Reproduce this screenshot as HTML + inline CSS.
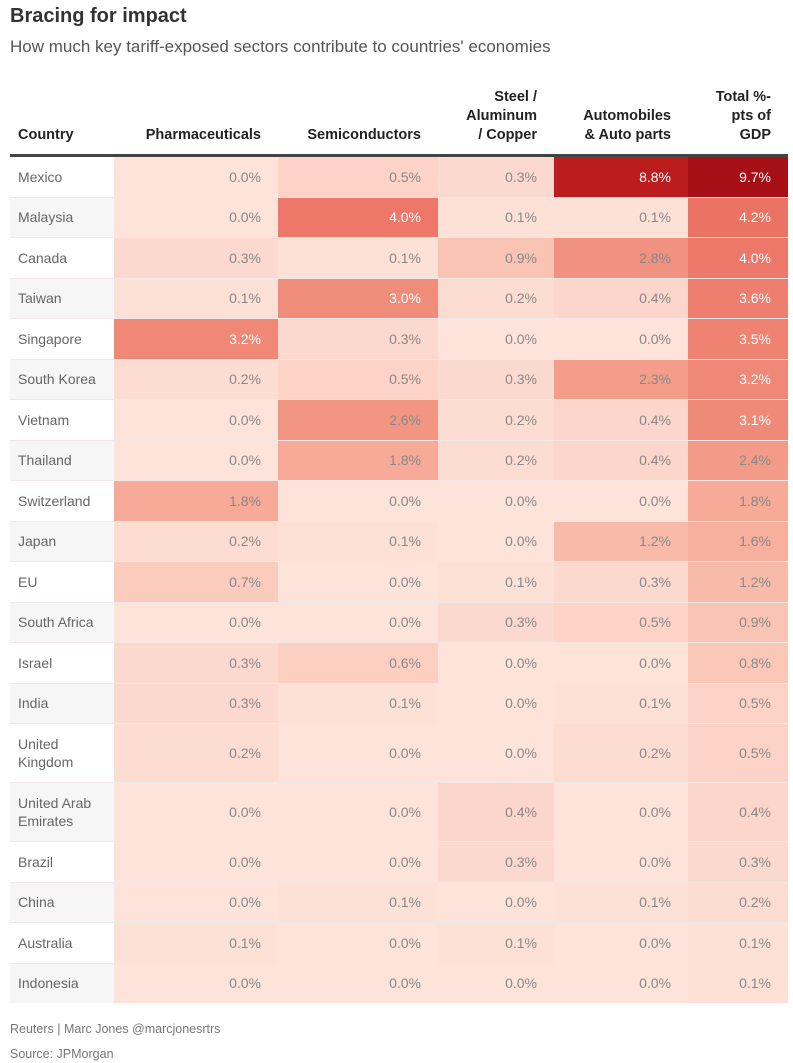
<!DOCTYPE html>
<html><head><meta charset="utf-8"><style>
body{margin:0;background:#fff;font-family:"Liberation Sans","DejaVu Sans",sans-serif;width:793px;height:1063px;overflow:hidden;position:relative}
.t{position:absolute;left:10px;top:5px;font-size:20px;font-weight:bold;color:#333}
.s{position:absolute;left:10px;top:37px;font-size:17px;color:#555}
table{position:absolute;left:10px;top:88px;border-collapse:collapse;width:778px;table-layout:fixed}
th{font-size:14.5px;font-weight:bold;color:#222;text-align:right;vertical-align:bottom;padding:0 17px 9px 0;line-height:19px;border-bottom:3px solid #444}
th.c{text-align:left;padding-left:8px}
td{font-size:14px;color:#888;text-align:right;padding:0 17px 0 0;border-top:1px solid #f0e8e6;height:39.5px;line-height:18px}
td.c{text-align:left;padding-left:8px;color:#666}
tr.tall td{height:58px}
.f{position:absolute;left:10px;font-size:12.5px;color:#777}
</style></head><body>
<div class="t">Bracing for impact</div>
<div class="s">How much key tariff-exposed sectors contribute to countries' economies</div>
<table id="tb">
<colgroup><col style="width:104px"><col style="width:164px"><col style="width:160px"><col style="width:116px"><col style="width:134px"><col style="width:100px"></colgroup>
<tr><th class="c">Country</th><th>Pharmaceuticals</th><th>Semiconductors</th><th>Steel /<br>Aluminum<br>/ Copper</th><th>Automobiles<br>&amp; Auto parts</th><th>Total %-<br>pts of<br>GDP</th></tr>
</table>
<div class="f" style="top:1022px">Reuters | Marc Jones @marcjonesrtrs</div>
<div class="f" style="top:1047px">Source: JPMorgan</div>
<script>
var d=[["Mexico",0,.5,.3,8.8,9.7],["Malaysia",0,4,.1,.1,4.2],["Canada",.3,.1,.9,2.8,4],["Taiwan",.1,3,.2,.4,3.6],["Singapore",3.2,.3,0,0,3.5],["South Korea",.2,.5,.3,2.3,3.2],["Vietnam",0,2.6,.2,.4,3.1],["Thailand",0,1.8,.2,.4,2.4],["Switzerland",1.8,0,0,0,1.8],["Japan",.2,.1,0,1.2,1.6],["EU",.7,0,.1,.3,1.2],["South Africa",0,0,.3,.5,.9],["Israel",.3,.6,0,0,.8],["India",.3,.1,0,.1,.5],["United<br>Kingdom",.2,0,0,.2,.5],["United Arab<br>Emirates",0,0,.4,0,.4],["Brazil",0,0,.3,0,.3],["China",0,.1,0,.1,.2],["Australia",.1,0,.1,0,.1],["Indonesia",0,0,0,0,.1]];
var st=[[0,[253,227,218]],[.5,[252,211,198]],[1,[250,192,175]],[2,[245,165,145]],[3,[240,140,122]],[4,[237,119,104]],[6,[218,74,64]],[8.8,[187,28,30]],[9.7,[165,15,21]]];
function col(v){for(var i=1;i<st.length;i++){if(v<=st[i][0]){var a=st[i-1],b=st[i],t=(v-a[0])/(b[0]-a[0]);return"rgb("+[0,1,2].map(function(k){return Math.round(a[1][k]+(b[1][k]-a[1][k])*t)}).join(",")+")"}}}
var tb=document.getElementById("tb"),h="";
d.forEach(function(r,i){h+='<tr'+(r[0].indexOf("<br>")>=0?' class="tall"':'')+'><td class="c" style="background:'+(i%2?"#f6f6f6":"#fff")+'">'+r[0]+'</td>';for(var j=1;j<6;j++){h+='<td style="background:'+col(r[j])+(r[j]>=3?';color:#fff':'')+'">'+r[j].toFixed(1)+'%</td>'}h+='</tr>'});
tb.insertAdjacentHTML("beforeend",h);
</script>
</body></html>
